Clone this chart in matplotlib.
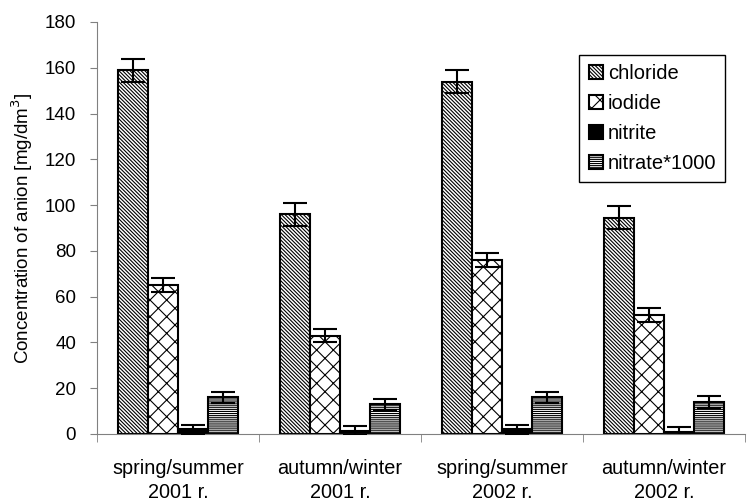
import matplotlib
matplotlib.use("Agg")
from matplotlib import pyplot as plt
import numpy as np

plt.rcParams['font.family'] = ['Liberation Sans', 'DejaVu Sans']
plt.rcParams['hatch.linewidth'] = 0.8

groups = ["spring/summer\n2001 r.", "autumn/winter\n2001 r.",
          "spring/summer\n2002 r.", "autumn/winter\n2002 r."]
series = ["chloride", "iodide", "nitrite", "nitrate*1000"]
chloride = [159, 96, 154, 94.5]
iodide = [65, 43, 76, 52]
nitrite = [2, 1.5, 2, 1]
nitrate = [16, 13, 16, 14]
err_chloride = [5, 5, 5, 5]
err_iodide = [3, 3, 3, 3]
err_nitrite = [2, 2, 2, 2]
err_nitrate = [2.5, 2.5, 2.5, 2.5]

values = [chloride, iodide, nitrite, nitrate]
errors = [err_chloride, err_iodide, err_nitrite, err_nitrate]
hatches = ['\\' * 9, 'xx', '', '-' * 8]
faces = ['white', 'white', 'black', 'white']

fig = plt.figure(figsize=(7.47, 5.03), dpi=100)
ax = fig.add_axes([97 / 747, 1 - 434 / 503, (745 - 97) / 747, (434 - 22) / 503])

x = np.arange(len(groups))
w = 0.185
for i, (vals, errs) in enumerate(zip(values, errors)):
    pos = x + (i - 1.5) * w
    ax.bar(pos, vals, w, color=faces[i], edgecolor='black', linewidth=1.5,
           hatch=hatches[i], label=series[i], zorder=2)
    ax.errorbar(pos, vals, yerr=errs, fmt='none', ecolor='black',
                elinewidth=1.5, capsize=8.5, capthick=1.5, zorder=3)

ax.set_xlim(-0.5, 3.5)
ax.set_ylim(0, 180)
ax.set_yticks(range(0, 181, 20))
ax.set_xticks(x)
ax.set_xticklabels(groups, fontsize=14.3, linespacing=1.3)
ax.tick_params(axis='x', length=0, pad=18)
ax.set_xticks(np.arange(-0.5, 3.6, 1), minor=True)
ax.tick_params(axis='x', which='minor', length=6, color='#808080', direction='out')
ax.tick_params(axis='y', labelsize=13.5, length=5, pad=10, color='#808080', direction='out')
ax.set_ylabel("Concentration of anion [mg/dm$^3$]", fontsize=13.5)
ax.yaxis.set_label_coords(-0.095, 0.5)

for s in ['top', 'right']:
    ax.spines[s].set_visible(False)
ax.spines['left'].set_color('#808080')
ax.spines['bottom'].set_color('#808080')

leg = ax.legend(loc='upper right', bbox_to_anchor=(0.985, 0.945), fontsize=14.5,
                fancybox=False, edgecolor='black', framealpha=1,
                handlelength=0.7, handleheight=0.7, handletextpad=0.25,
                labelspacing=0.55, borderpad=0.45)
leg.get_frame().set_linewidth(1.0)

fig.savefig("out.png", dpi=100)
